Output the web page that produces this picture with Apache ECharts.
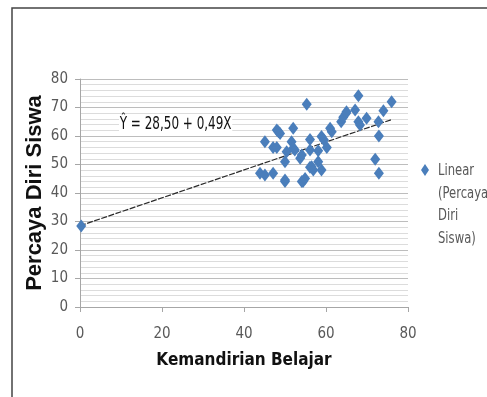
<!DOCTYPE html>
<html><head><meta charset="utf-8">
<script src="https://cdn.jsdelivr.net/npm/echarts@6/dist/echarts.min.js"></script>
<style>html,body{margin:0;padding:0;background:#fff}#c{width:487px;height:397px}</style>
</head><body><div id="c"></div>
<script>
var xTicks = [0, 20, 40, 60, 80];
var yTicks = [0, 10, 20, 30, 40, 50, 60, 70, 80];
var kemandirian = [0.3, 43.9, 45.1, 45.1, 47.1, 47.1, 48.0, 48.0, 48.4, 48.8, 50.0, 50.0, 50.0, 50.4, 51.6, 52.0, 52.0, 52.4, 53.7, 54.1, 54.1, 54.4, 54.9, 55.3, 56.1, 56.1, 56.1, 56.5, 56.9, 58.1, 58.1, 58.9, 58.9, 59.5, 60.2, 61.0, 61.4, 63.7, 64.2, 64.9, 65.0, 67.1, 67.9, 67.9, 68.3, 69.9, 72.0, 72.8, 72.9, 72.9, 74.0, 76.0];
var percayaDiri = [28.4, 46.9, 58.0, 46.3, 46.9, 56.0, 56.0, 62.1, 61.5, 60.9, 51.0, 44.6, 44.0, 54.5, 58.0, 62.7, 55.7, 55.1, 52.2, 53.3, 44.0, 44.0, 45.1, 71.1, 58.8, 55.1, 49.0, 49.2, 48.1, 54.8, 51.0, 59.8, 48.1, 58.6, 56.0, 62.7, 61.5, 65.0, 66.6, 68.0, 68.5, 69.1, 74.1, 65.0, 63.9, 66.2, 51.8, 65.0, 60.0, 46.9, 68.9, 72.0];
var trendX = [0, 76];
var trendY = [28.5, 65.74];
var equationText = '\u0176 = 28,50 + 0,49X';
var legendText = 'Linear\n(Percaya\nDiri\nSiswa)';

var pts = kemandirian.map(function (x, i) { return [x, percayaDiri[i]]; });
var trend = trendX.map(function (x, i) { return [x, trendY[i]]; });
var narrow = '"Liberation Sans Narrow", "DejaVu Sans Condensed", sans-serif';

var chart = echarts.init(document.getElementById('c'), null, {renderer: 'canvas'});
chart.setOption({
  animation: false,
  backgroundColor: '#fff',
  grid: {left: 80, right: 79, top: 79, bottom: 90},
  xAxis: {
    type: 'value', min: 0, max: 80, interval: 20,
    name: 'Kemandirian Belajar', nameLocation: 'middle', nameGap: 45,
    nameTextStyle: {fontFamily: narrow, fontWeight: 'bold', fontSize: 17, color: '#111'},
    axisLine: {show: true, onZero: false, lineStyle: {color: '#a6a6a6'}},
    axisTick: {show: true, length: 5, lineStyle: {color: '#a6a6a6'}},
    axisLabel: {fontFamily: narrow, fontSize: 15, color: '#595959', margin: 20},
    splitLine: {show: false}
  },
  yAxis: {
    type: 'value', min: 0, max: 80, interval: 10,
    name: 'Percaya Diri Siswa', nameLocation: 'middle', nameGap: 34, nameRotate: 90,
    nameMoveOverlap: false,
    nameTextStyle: {fontFamily: '"Liberation Sans", Arial, sans-serif', fontWeight: 'bold', fontSize: 22, color: '#111'},
    axisLine: {show: true, lineStyle: {color: '#a6a6a6'}},
    axisTick: {show: true, length: 5, lineStyle: {color: '#a6a6a6'}},
    axisLabel: {fontFamily: narrow, fontSize: 15, color: '#595959', margin: 12},
    splitLine: {show: true, lineStyle: {color: '#bdbdbd', width: 1}},
    minorTick: {show: false, splitNumber: 5},
    minorSplitLine: {show: true, lineStyle: {color: '#dcdcdc', width: 1}}
  },
  series: [
    {
      type: 'line', data: trend, symbol: 'none', silent: true, z: 3,
      lineStyle: {color: '#2a2a2a', width: 1.2, type: [6, 1.5]}
    },
    {
      type: 'scatter', data: pts, symbol: 'diamond', symbolSize: [10, 13], z: 4,
      itemStyle: {color: '#4a7ebb', opacity: 1}
    }
  ],
  graphic: [
    {type: 'polyline', shape: {points: [[12, 397], [12, 8], [487, 8]]}, style: {stroke: '#444', lineWidth: 1.5, fill: null}},
    {type: 'text', x: 119, y: 114, scaleX: 0.74, z: 10, style: {text: equationText, font: '18px ' + narrow, fill: '#111', backgroundColor: '#fff', padding: [1, 1]}},
    {type: 'polygon', shape: {points: [[425, 164], [429, 170], [425, 176], [421, 170]]}, style: {fill: '#4a7ebb'}},
    {type: 'text', x: 438, y: 160, scaleX: 0.86, style: {text: legendText, font: '15px ' + narrow, lineHeight: 22.5, fill: '#595959'}}
  ]
});
</script></body></html>
